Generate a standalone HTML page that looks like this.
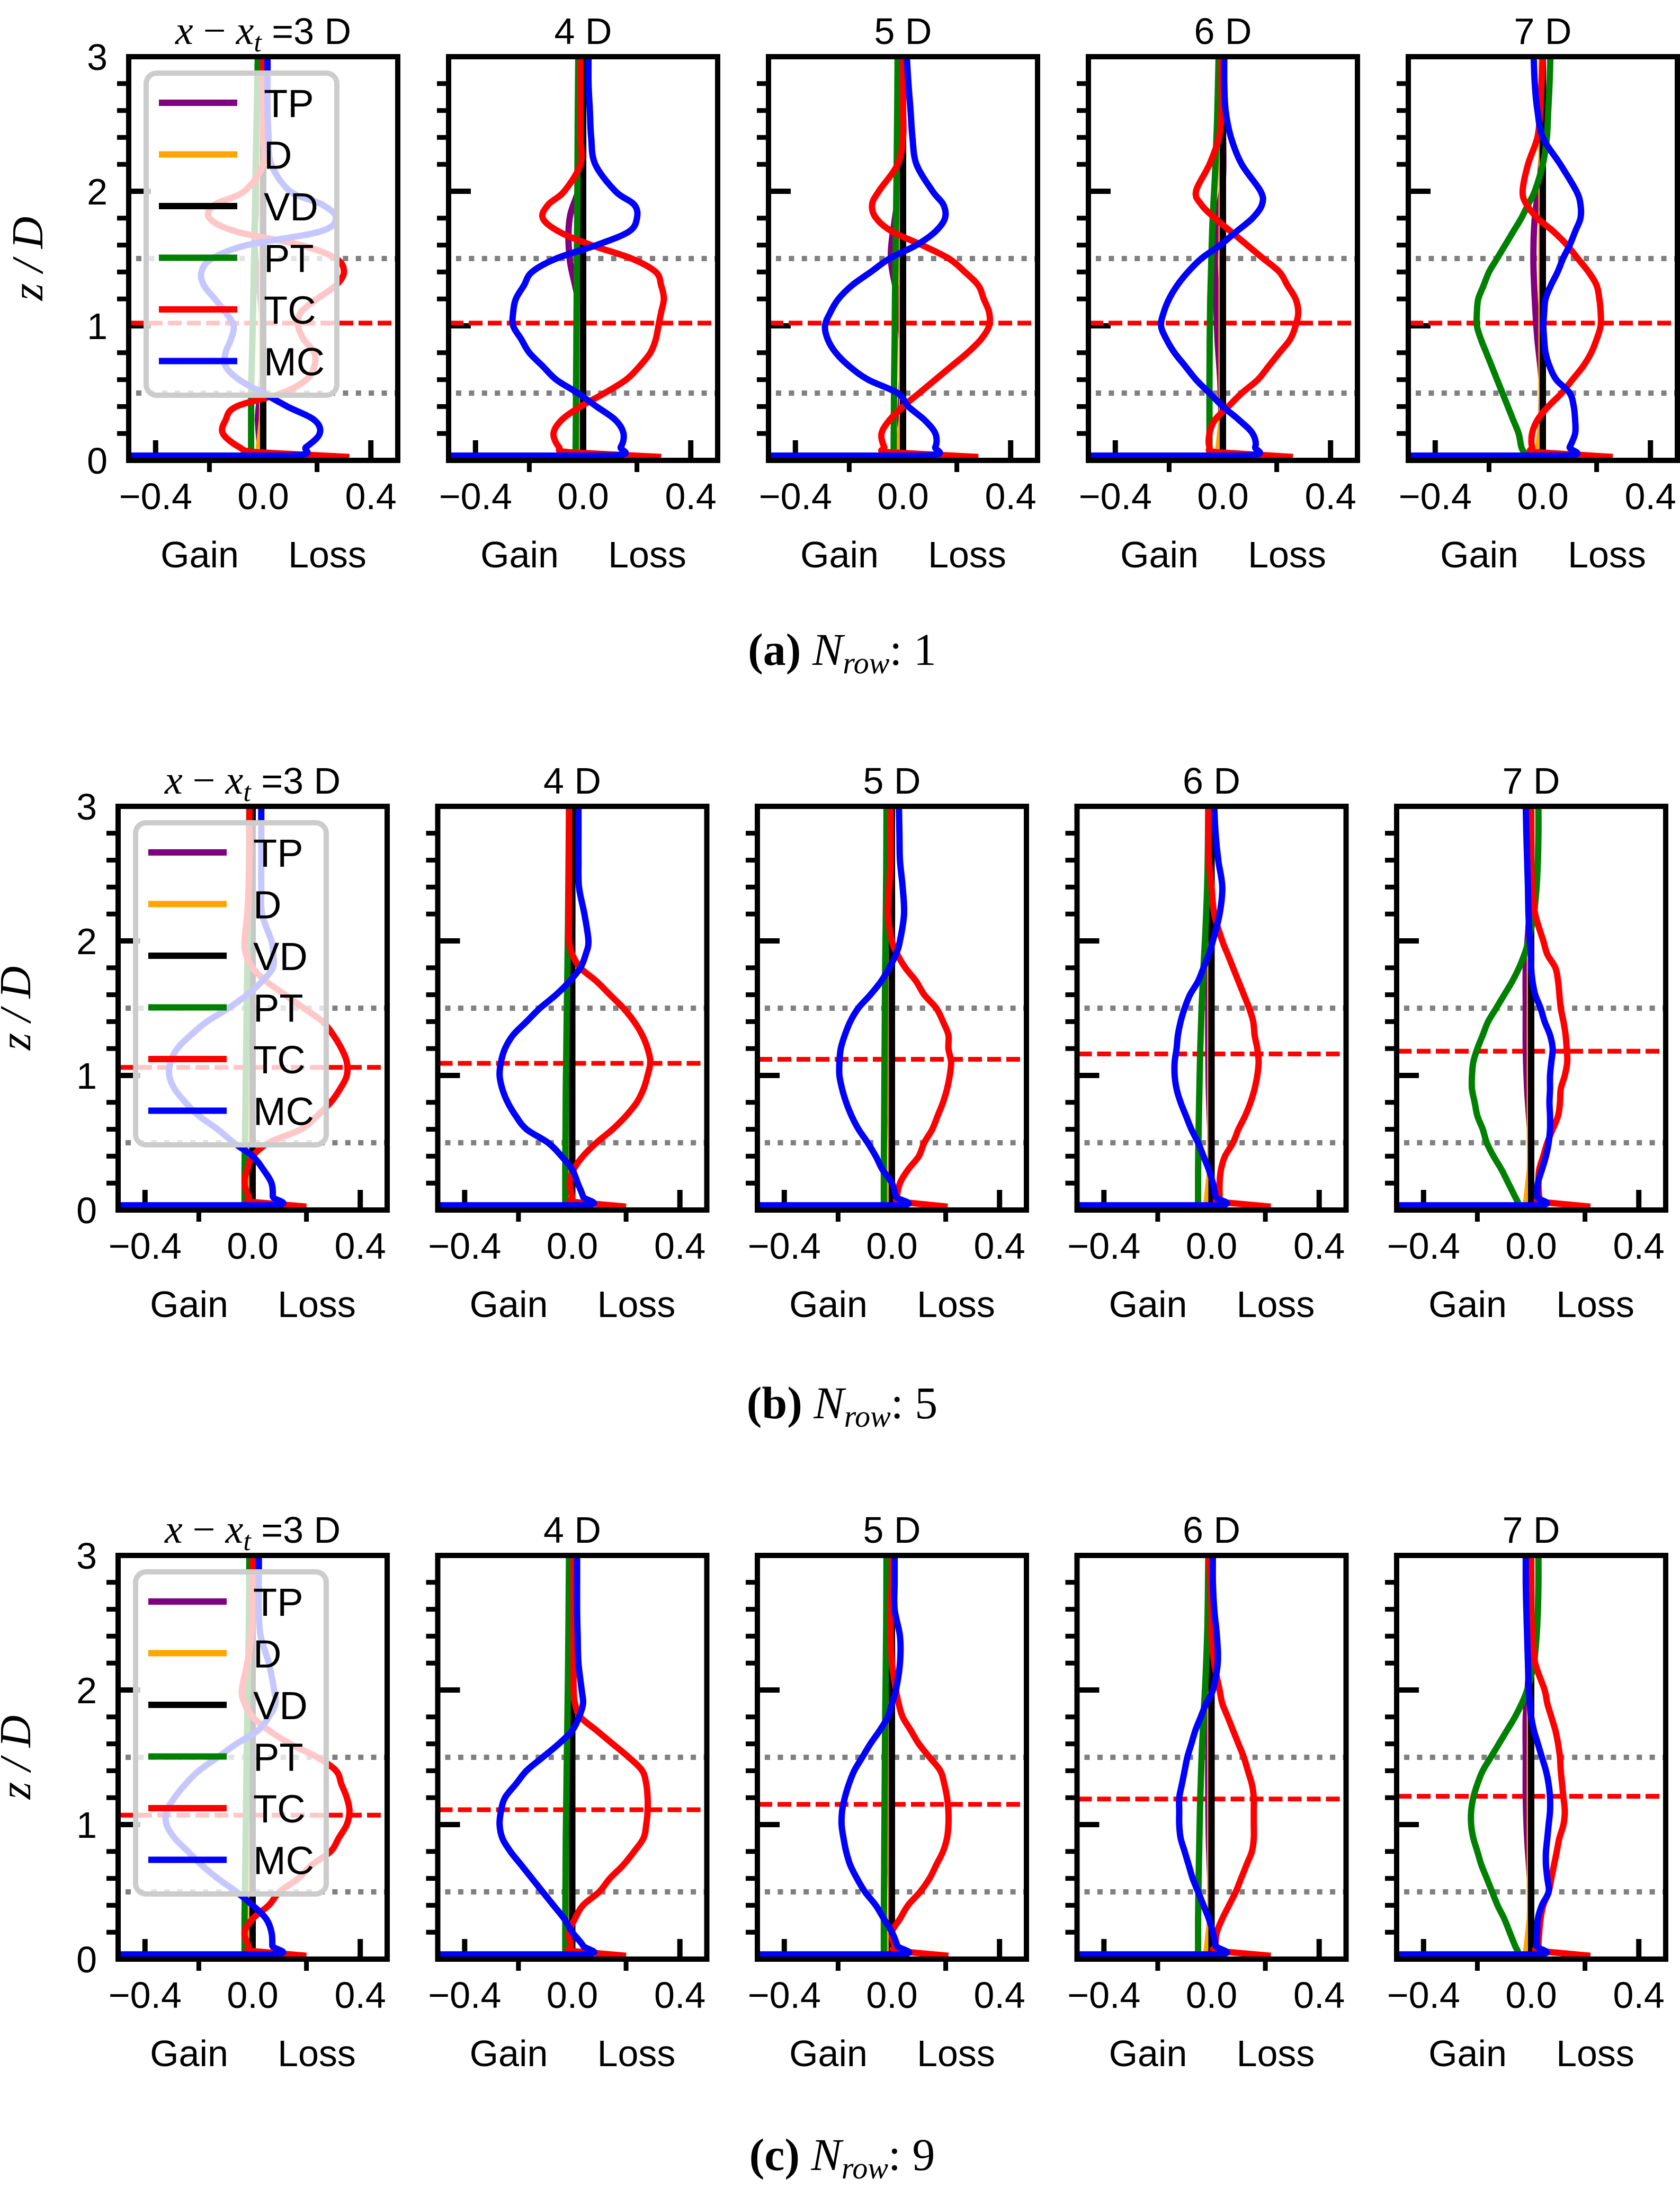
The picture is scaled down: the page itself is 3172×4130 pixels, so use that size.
<!DOCTYPE html>
<html><head><meta charset="utf-8">
<style>
html,body{margin:0;padding:0;background:#fff;}
svg{display:block;}
</style></head>
<body>
<svg id="fig" xmlns="http://www.w3.org/2000/svg" width="3172" height="4130" viewBox="0 0 3172 4130"></svg>
<script>
// ---------------- DATA ----------------
const Z = [0.025,0.06,0.1,0.2,0.3,0.4,0.5,0.6,0.7,0.8,0.9,1.0,1.1,1.2,1.3,1.4,1.5,1.6,1.7,1.8,1.9,2.0,2.2,2.4,2.6,2.8,3.0];
const ZM = [0.035,0.035,0.1,0.2,0.3,0.4,0.5,0.6,0.7,0.8,0.9,1.0,1.1,1.2,1.3,1.4,1.5,1.6,1.7,1.8,1.9,2.0,2.2,2.4,2.6,2.8,3.0];
const ZS = [0.025,0.3,0.6,0.9,1.2,1.5,1.8,2.1,2.5,3.0];
const panelTitles = ["=3 D","4 D","5 D","6 D","7 D"];
const rowCaptions = ["a","b","c"];
const rowNumbers = ["1","5","9"];
const xTickValues = [-0.4,0.0,0.4];
const xTickLabels = ["\u22120.4","0.0","0.4"];
const yTickValues = [0,1,2,3];
const yTickLabels = ["0","1","2","3"];
const legendLabels = ["TP","D","VD","PT","TC","MC"];
const seriesColors = ["#800080","#ffa500","#000000","#008000","#ff0000","#0000ff"];
const hubA = [1.02,1.02,1.02,1.02,1.02];
const hubB = [1.06,1.09,1.12,1.16,1.18];
const hubC = [1.07,1.11,1.15,1.19,1.21];

const tpA = [[-0.01,-0.02,-0.005,0,-0.01,-0.03,-0.03,-0.005,0,0],[-0.005,-0.01,-0.005,-0.01,-0.02,-0.05,-0.05,-0.005,0,0],[-0.005,-0.01,-0.005,-0.005,-0.02,-0.045,-0.03,-0.005,0,0],[0,-0.005,-0.01,-0.02,-0.025,-0.03,-0.02,0,0,0],[0,-0.005,-0.005,-0.02,-0.03,-0.035,-0.03,-0.01,0,0]];
const tpB = [[0,0,-0.005,-0.01,-0.01,-0.01,-0.005,0,0,0],[0,0,-0.005,-0.01,-0.01,-0.01,-0.005,0,0,0],[0,0,-0.005,-0.01,-0.01,-0.01,-0.005,0,0,0],[0,0,-0.005,-0.01,-0.012,-0.012,-0.008,0,0,0],[0,0,-0.005,-0.015,-0.02,-0.02,-0.02,-0.01,0,0]];
const tpC = [[0,0,-0.005,-0.01,-0.01,-0.01,-0.005,0,0,0],[0,0,-0.005,-0.01,-0.01,-0.01,-0.005,0,0,0],[0,0,-0.005,-0.01,-0.01,-0.01,-0.005,0,0,0],[0,0,-0.005,-0.01,-0.012,-0.012,-0.008,0,0,0],[0,0,-0.005,-0.015,-0.02,-0.02,-0.02,-0.01,0,0]];
const dAll = [-0.02,-0.005,-0.005,-0.005,-0.005,-0.005,-0.005,-0.005,-0.005,-0.005];
const vdAll = [0,0,0,0,0,0,0,0,0,0];
const ptA = [[-0.045,-0.045,-0.044,-0.04,-0.037,-0.034,-0.031,-0.029,-0.025,-0.02],[-0.028,-0.027,-0.026,-0.025,-0.024,-0.023,-0.022,-0.021,-0.02,-0.018],[-0.035,-0.034,-0.033,-0.031,-0.03,-0.028,-0.026,-0.024,-0.022,-0.02],[-0.05,-0.05,-0.05,-0.049,-0.047,-0.043,-0.038,-0.03,-0.022,-0.016],
 [-0.06,-0.07,-0.08,-0.09,-0.11,-0.13,-0.15,-0.17,-0.19,-0.21,-0.23,-0.245,-0.245,-0.24,-0.22,-0.20,-0.17,-0.14,-0.11,-0.08,-0.055,-0.03,0.0,0.015,0.02,0.025,0.028]];
const ptB = [[-0.03,-0.03,-0.028,-0.026,-0.024,-0.022,-0.02,-0.017,-0.014,-0.012],[-0.026,-0.026,-0.025,-0.024,-0.022,-0.02,-0.018,-0.016,-0.014,-0.012],[-0.03,-0.03,-0.029,-0.028,-0.027,-0.026,-0.025,-0.023,-0.021,-0.02],[-0.05,-0.05,-0.048,-0.045,-0.042,-0.037,-0.03,-0.022,-0.015,-0.012],
 [-0.045,-0.05,-0.06,-0.085,-0.11,-0.14,-0.165,-0.18,-0.20,-0.21,-0.22,-0.22,-0.215,-0.2,-0.18,-0.16,-0.13,-0.10,-0.07,-0.045,-0.025,-0.01,0.01,0.02,0.025,0.027,0.027]];
const ptC = [[-0.03,-0.03,-0.028,-0.026,-0.024,-0.022,-0.02,-0.017,-0.014,-0.012],[-0.026,-0.026,-0.025,-0.024,-0.022,-0.02,-0.018,-0.016,-0.014,-0.012],[-0.03,-0.03,-0.029,-0.028,-0.027,-0.026,-0.025,-0.023,-0.021,-0.02],[-0.05,-0.05,-0.048,-0.045,-0.042,-0.037,-0.03,-0.022,-0.015,-0.012],
 [-0.045,-0.05,-0.06,-0.08,-0.1,-0.125,-0.145,-0.165,-0.185,-0.20,-0.215,-0.223,-0.223,-0.215,-0.2,-0.18,-0.15,-0.12,-0.09,-0.06,-0.035,-0.015,0.01,0.02,0.025,0.027,0.027]];
const tcA = [
 [0.32,-0.02,-0.09,-0.15,-0.14,-0.10,0.07,0.16,0.19,0.19,0.15,0.13,0.14,0.20,0.27,0.30,0.27,0.14,-0.10,-0.20,-0.18,-0.07,0.0,0.0,0.0,0.0,0.0],
 [0.29,-0.05,-0.09,-0.11,-0.08,-0.01,0.08,0.16,0.21,0.25,0.27,0.28,0.29,0.30,0.29,0.27,0.18,0.03,-0.09,-0.15,-0.13,-0.07,-0.01,-0.01,-0.01,-0.01,-0.01],
 [0.28,-0.05,-0.07,-0.08,-0.05,0.0,0.06,0.12,0.18,0.24,0.29,0.32,0.32,0.30,0.28,0.23,0.17,0.07,-0.04,-0.10,-0.115,-0.09,-0.02,0.0,0.0,0.0,0.0],
 [0.26,-0.02,-0.05,-0.05,-0.03,0.02,0.07,0.13,0.17,0.21,0.25,0.27,0.28,0.27,0.24,0.21,0.15,0.09,0.03,-0.03,-0.08,-0.10,-0.05,-0.015,-0.005,-0.005,-0.005],
 [0.26,-0.02,-0.04,-0.04,-0.02,0.02,0.07,0.11,0.15,0.18,0.20,0.215,0.215,0.21,0.20,0.17,0.13,0.09,0.04,-0.02,-0.06,-0.075,-0.055,-0.02,-0.01,-0.005,0.0]];
const tcB = [
 [0.2,0.0,-0.015,-0.03,-0.02,0.0,0.06,0.18,0.24,0.29,0.325,0.35,0.35,0.33,0.30,0.26,0.19,0.12,0.05,0.0,-0.025,-0.03,-0.02,-0.015,-0.012,-0.012,-0.012],
 [0.2,0.005,0.0,-0.01,0.005,0.04,0.09,0.15,0.2,0.24,0.265,0.28,0.29,0.28,0.26,0.23,0.19,0.14,0.09,0.03,0.0,-0.012,-0.012,-0.012,-0.012,-0.012,-0.012],
 [0.207,0.034,0.02,0.03,0.06,0.1,0.12,0.15,0.17,0.19,0.205,0.215,0.22,0.21,0.21,0.19,0.165,0.12,0.09,0.05,0.02,0.0,-0.015,-0.01,-0.005,-0.005,-0.005],
 [0.22,0.03,0.03,0.03,0.035,0.05,0.08,0.1,0.125,0.145,0.16,0.17,0.175,0.17,0.16,0.155,0.14,0.12,0.1,0.08,0.06,0.04,0.01,0.0,-0.01,-0.012,-0.012],
 [0.22,0.036,0.03,0.027,0.03,0.045,0.06,0.08,0.1,0.107,0.11,0.125,0.134,0.132,0.128,0.12,0.11,0.105,0.1,0.09,0.06,0.045,0.015,0.005,0.0,0.0,0.0]];
const tcC = [
 [0.2,0.0,-0.015,-0.03,0.0,0.06,0.1,0.17,0.22,0.29,0.32,0.35,0.36,0.35,0.33,0.31,0.24,0.14,0.06,0.0,-0.03,-0.04,-0.02,-0.005,0.0,0.0,0.0],
 [0.2,0.0,-0.005,-0.012,0.01,0.04,0.1,0.14,0.19,0.23,0.265,0.275,0.28,0.28,0.275,0.26,0.21,0.15,0.09,0.03,0.01,0.005,0.005,0.005,0.005,0.005,0.005],
 [0.21,0.02,0.01,0.0,0.03,0.06,0.105,0.14,0.165,0.19,0.205,0.21,0.21,0.205,0.195,0.18,0.14,0.1,0.07,0.04,0.025,0.015,0.0,-0.005,-0.005,0.0,0.0],
 [0.22,0.023,0.015,0.02,0.04,0.065,0.09,0.11,0.13,0.15,0.157,0.157,0.157,0.157,0.15,0.135,0.12,0.1,0.08,0.06,0.04,0.03,0.01,0.0,0.0,-0.005,-0.01],
 [0.22,0.03,0.027,0.03,0.035,0.045,0.065,0.075,0.085,0.095,0.105,0.12,0.125,0.12,0.115,0.11,0.107,0.1,0.09,0.075,0.06,0.05,0.015,0.005,0.0,0.0,0.0]];
const mcA = [
 [-0.5,0.10,0.16,0.21,0.19,0.09,0.0,-0.09,-0.14,-0.14,-0.12,-0.11,-0.14,-0.18,-0.22,-0.23,-0.19,-0.06,0.21,0.27,0.22,0.10,0.03,0.02,0.016,0.016,0.016],
 [-0.5,0.10,0.14,0.15,0.12,0.05,-0.02,-0.10,-0.15,-0.20,-0.23,-0.26,-0.26,-0.25,-0.22,-0.19,-0.10,0.05,0.17,0.20,0.19,0.12,0.045,0.03,0.025,0.02,0.02],
 [-0.5,0.08,0.12,0.12,0.08,0.02,-0.02,-0.13,-0.2,-0.25,-0.28,-0.29,-0.27,-0.24,-0.19,-0.12,-0.05,0.05,0.12,0.156,0.15,0.11,0.05,0.035,0.028,0.02,0.014],
 [-0.5,0.08,0.12,0.11,0.06,0.0,-0.05,-0.10,-0.14,-0.18,-0.21,-0.23,-0.22,-0.20,-0.17,-0.13,-0.08,-0.01,0.05,0.11,0.145,0.14,0.07,0.03,0.01,0.005,0.005],
 [-0.5,0.08,0.10,0.12,0.12,0.115,0.10,0.05,0.025,0.01,0.005,0.002,0.005,0.01,0.03,0.055,0.075,0.10,0.12,0.14,0.14,0.125,0.065,0.0,-0.02,-0.03,-0.034]];
const mcB = [
 [-0.5,0.07,0.075,0.07,0.04,0.0,-0.07,-0.13,-0.2,-0.25,-0.29,-0.31,-0.305,-0.28,-0.23,-0.17,-0.09,-0.02,0.035,0.075,0.077,0.07,0.035,0.032,0.032,0.032,0.032],
 [-0.5,0.04,0.04,0.02,0.0,-0.04,-0.09,-0.17,-0.21,-0.24,-0.26,-0.27,-0.265,-0.25,-0.22,-0.17,-0.12,-0.06,-0.01,0.03,0.05,0.06,0.045,0.025,0.023,0.023,0.023],
 [-0.5,0.026,0.015,0.0,-0.035,-0.06,-0.09,-0.124,-0.15,-0.17,-0.185,-0.195,-0.195,-0.19,-0.175,-0.155,-0.125,-0.08,-0.04,-0.01,0.015,0.03,0.045,0.04,0.03,0.028,0.026],
 [-0.5,0.02,0.015,0.005,-0.01,-0.03,-0.05,-0.075,-0.095,-0.115,-0.13,-0.137,-0.137,-0.13,-0.125,-0.115,-0.10,-0.08,-0.05,-0.03,-0.01,0.005,0.03,0.04,0.025,0.015,0.01],
 [-0.5,0.02,0.022,0.025,0.04,0.055,0.065,0.07,0.07,0.068,0.07,0.07,0.075,0.08,0.07,0.05,0.035,0.015,0.005,0.0,0.0,-0.005,-0.01,-0.012,-0.015,-0.018,-0.02]];
const mcC = [
 [-0.5,0.07,0.073,0.07,0.05,0.0,-0.06,-0.13,-0.19,-0.24,-0.29,-0.32,-0.32,-0.29,-0.25,-0.2,-0.13,-0.06,0.02,0.06,0.085,0.08,0.06,0.03,0.023,0.023,0.023],
 [-0.5,0.04,0.04,0.0,-0.03,-0.07,-0.11,-0.15,-0.19,-0.23,-0.26,-0.27,-0.265,-0.25,-0.21,-0.17,-0.11,-0.05,0.0,0.025,0.04,0.035,0.023,0.02,0.018,0.018,0.018],
 [-0.5,0.026,0.02,0.0,-0.03,-0.06,-0.1,-0.13,-0.155,-0.17,-0.18,-0.187,-0.185,-0.175,-0.16,-0.14,-0.11,-0.08,-0.045,-0.015,0.0,0.015,0.03,0.03,0.01,0.01,0.01],
 [-0.5,0.02,0.015,0.005,-0.01,-0.03,-0.05,-0.07,-0.085,-0.1,-0.115,-0.12,-0.12,-0.12,-0.11,-0.1,-0.09,-0.075,-0.06,-0.04,-0.02,0.005,0.023,0.02,0.01,0.005,0.005],
 [-0.5,0.02,0.02,0.022,0.025,0.04,0.065,0.06,0.055,0.055,0.06,0.065,0.07,0.07,0.065,0.055,0.04,0.025,0.01,0.0,-0.005,-0.009,-0.012,-0.015,-0.018,-0.02,-0.02]];

// ---------------- LAYOUT ----------------
const NS = "http://www.w3.org/2000/svg";
const svg = document.getElementById("fig");
const PW = 508, PH = 762;
const rows = [
  {top:107, x0:243, dx:604, tp:tpA, pt:ptA, tc:tcA, mc:mcA, hub:hubA, cap:1255, ylabX:80},
  {top:1522, x0:223, dx:603.5, tp:tpB, pt:ptB, tc:tcB, mc:mcB, hub:hubB, cap:2677, ylabX:57},
  {top:2936, x0:223, dx:603.5, tp:tpC, pt:ptC, tc:tcC, mc:mcC, hub:hubC, cap:4096, ylabX:57}
];
function el(tag, attrs, parent){
  const e = document.createElementNS(NS, tag);
  for (const k in attrs) e.setAttribute(k, attrs[k]);
  (parent||svg).appendChild(e);
  return e;
}
function xScale(v, left){ return left + (v + 0.5) * PW; }
function yScale(z, top){ return top + PH - z * (PH/3); }
function curvePath(xsArr, zsArr, left, top){
  const n = Math.min(xsArr.length, zsArr.length);
  const p = [];
  for (let i=0;i<n;i++) p.push([xScale(xsArr[i],left), yScale(zsArr[i],top)]);
  let d = "M"+p[0][0].toFixed(1)+","+p[0][1].toFixed(1)+" L"+p[1][0].toFixed(1)+","+p[1][1].toFixed(1);
  for (let i=1;i<n-1;i++){
    const p0=p[i-1], p1=p[i], p2=p[i+1], p3=p[i+2]||p2;
    const c1=[p1[0]+(p2[0]-p0[0])/6, p1[1]+(p2[1]-p0[1])/6];
    const c2=[p2[0]-(p3[0]-p1[0])/6, p2[1]-(p3[1]-p1[1])/6];
    d += " C"+c1[0].toFixed(1)+","+c1[1].toFixed(1)+" "+c2[0].toFixed(1)+","+c2[1].toFixed(1)+" "+p2[0].toFixed(1)+","+p2[1].toFixed(1);
  }
  return d;
}
const SANS = '"Liberation Sans", Arial, sans-serif';
const SERIF = '"Liberation Serif", "Times New Roman", serif';
const FS = 70;

rows.forEach((row, r) => {
  for (let p=0;p<5;p++){
    const left = row.x0 + p*row.dx, top = row.top, bottom = top + PH, right = left + PW;
    const g = el("g", {});
    
    
    for (let k=1;k<15;k++){
      if (k%5===0) continue;
      const y = yScale(k*0.2, top);
      const t = el("line", {x1:left-22, x2:left, y1:y, y2:y, stroke:"#000", "stroke-width":9}, g);
      
      
    }
    yTickValues.forEach((v,i) => {
      const y = yScale(v, top);
      const t = el("line", {x1:left, x2:left+42, y1:y, y2:y, stroke:"#000", "stroke-width":10}, g);
      
      
      if (p===0){
        const lb = el("text", {x:left-40, y:y+25, "text-anchor":"end", "font-family":SANS, "font-size":FS}, g);
        lb.textContent = yTickLabels[i];
        
        
      }
    });
    xTickValues.forEach((v,i) => {
      const x = xScale(v, left);
      const t = el("line", {x1:x, x2:x, y1:bottom, y2:bottom-38, stroke:"#000", "stroke-width":10}, g);
      
      
      const lb = el("text", {x:x, y:bottom+92, "text-anchor":"middle", "font-family":SANS, "font-size":FS}, g);
      lb.textContent = xTickLabels[i];
      
      
    });
    [-0.2, 0.2].forEach(v => {
      const x = xScale(v, left);
      const t = el("line", {x1:x, x2:x, y1:bottom, y2:bottom+22, stroke:"#000", "stroke-width":9}, g);
      
      
    });
    const gn = el("text", {x:left+134, y:bottom+202, "text-anchor":"middle", "font-family":SANS, "font-size":FS}, g);
    gn.textContent = "Gain";
    
    
    const ls = el("text", {x:left+375, y:bottom+202, "text-anchor":"middle", "font-family":SANS, "font-size":FS}, g);
    ls.textContent = "Loss";
    
    
    const tt = el("text", {x:left+PW/2, y:top-24, "text-anchor":"middle", "font-family":SANS, "font-size":FS}, g);
    
    
    if (p===0){
      const s1 = el("tspan", {"font-family":SERIF, "font-style":"italic", "font-size":76}, tt); s1.textContent = "x";
      const s2 = el("tspan", {"font-family":SERIF, "font-size":76}, tt); s2.textContent = " \u2212 ";
      const s3 = el("tspan", {"font-family":SERIF, "font-style":"italic", "font-size":76}, tt); s3.textContent = "x";
      const s4 = el("tspan", {"font-family":SERIF, "font-style":"italic", "font-size":52, dy:14}, tt); s4.textContent = "t";
      const s5 = el("tspan", {dy:-14}, tt); s5.textContent = " " + panelTitles[p];
    } else {
      tt.textContent = panelTitles[p];
    }
    [0.5, 1.5].forEach(z => {
      const y = yScale(z, top);
      const l = el("line", {x1:left+14, x2:right-4, y1:y, y2:y, stroke:"#808080", "stroke-width":10, "stroke-dasharray":"10 14.4"}, g);
      
      
    });
    const hy = yScale(row.hub[p], top);
    const hl = el("line", {x1:left+2, x2:right-8, y1:hy, y2:hy, stroke:"#ff0000", "stroke-width":9, "stroke-dasharray":"26 10"}, g);
    
    
    const sets = [
      {name:"tp", data:row.tp[p]},
      {name:"d", data:dAll},
      {name:"vd", data:vdAll},
      {name:"pt", data:row.pt[p]},
      {name:"tc", data:row.tc[p]},
      {name:"mc", data:row.mc[p]}
    ];
    sets.forEach((s, si) => {
      let zg = s.data.length === Z.length ? Z : ZS;
      if (s.name === "mc") zg = ZM;
      const path = el("path", {d:curvePath(s.data, zg, left, top), fill:"none", stroke:seriesColors[si], "stroke-width":12, "stroke-linejoin":"round"}, g);
      
      
    });
    const fr = el("rect", {x:left, y:top, width:PW, height:PH, fill:"none", stroke:"#000", "stroke-width":10}, g);
    
    
    if (p===0){
      const lg = el("g", {}, g);
      
      
      const bx = el("rect", {x:left+33, y:top+31, width:360, height:608, rx:20, ry:20, fill:"#fff", "fill-opacity":0.78, stroke:"#cccccc", "stroke-width":10}, lg);
      
      
      legendLabels.forEach((lab, i) => {
        const y = top + 87 + i*97.5;
        const ln = el("line", {x1:left+57, x2:left+205, y1:y, y2:y, stroke:seriesColors[i], "stroke-width":12}, lg);
        
        
        const tx = el("text", {x:left+255, y:y+27, "font-family":SANS, "font-size":74}, lg);
        tx.textContent = lab;
        
        
      });
      const yl = el("text", {x:row.ylabX, y:top+PH/2, "text-anchor":"middle", "font-family":SERIF, "font-style":"italic", "font-size":84, transform:"rotate(-90 "+row.ylabX+" "+(top+PH/2)+")"}, g);
      yl.textContent = "z / D";
      
      
    }
  }
  const cp = el("text", {x:1590, y:row.cap, "text-anchor":"middle", "font-family":SERIF, "font-size":86});
  
  
  const c1 = el("tspan", {"font-weight":"bold"}, cp); c1.textContent = "(" + rowCaptions[r] + ")";
  const c2 = el("tspan", {"font-style":"italic"}, cp); c2.textContent = " N";
  const c3 = el("tspan", {"font-style":"italic", "font-size":58, dy:16}, cp); c3.textContent = "row";
  const c4 = el("tspan", {dy:-16}, cp); c4.textContent = ": " + rowNumbers[r];
});
</script>
</body></html>
